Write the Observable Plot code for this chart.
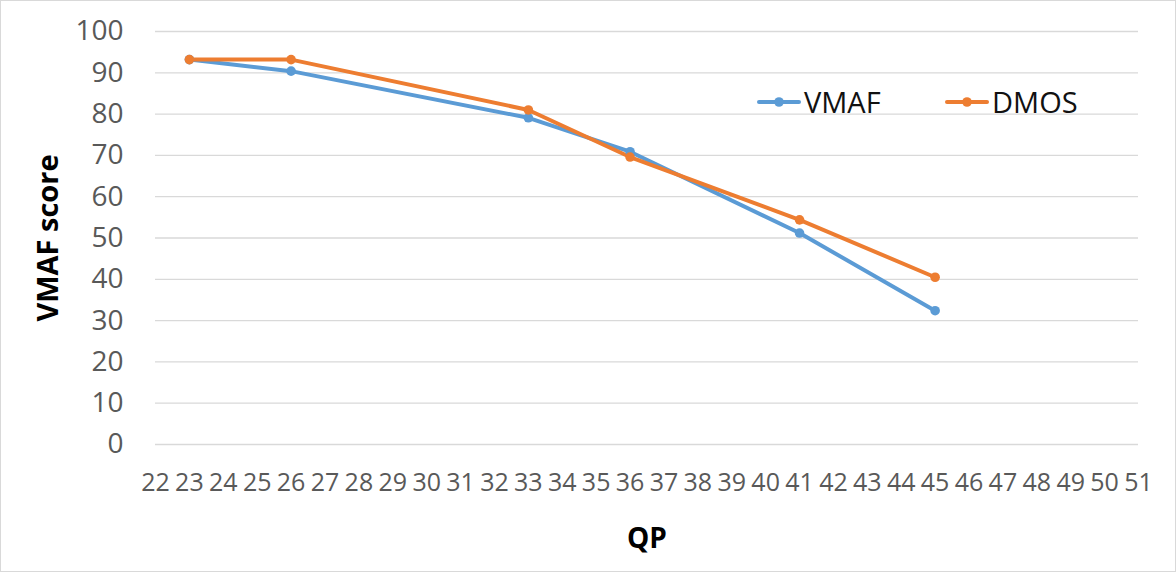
<!DOCTYPE html>
<html>
<head>
<meta charset="utf-8">
<script src="https://cdn.jsdelivr.net/npm/d3@7"></script>
<script src="https://cdn.jsdelivr.net/npm/@observablehq/plot@0.6"></script>
<style>
  html, body { margin: 0; padding: 0; background: #fff; }
  #wrap { position: relative; width: 1176px; height: 572px; font-family: "Open Sans", sans-serif; }
  #wrap::after { content: ""; position: absolute; inset: 0; border: 1px solid #d9d9d9; pointer-events: none; }
  .legend-item { position: absolute; top: 82px; height: 40px; display: flex; align-items: center; font-size: 29px; color: #111; line-height: 40px; }
  .legend-item svg { margin-right: 3px; }
</style>
</head>
<body>
<div id="wrap"></div>
<script>
const qp = [23, 26, 33, 36, 41, 45];
const vmaf = [93.2, 90.4, 79.1, 70.9, 51.2, 32.4];
const dmos = [93.2, 93.2, 81.0, 69.6, 54.4, 40.5];
const seriesNames = ["VMAF", "DMOS"];
const seriesColors = ["#5b9bd5", "#ed7d31"];
const xTicks = [22,23,24,25,26,27,28,29,30,31,32,33,34,35,36,37,38,39,40,41,42,43,44,45,46,47,48,49,50,51];
const yTicks = [0,10,20,30,40,50,60,70,80,90,100];
const xTitle = "QP";
const yTitle = "VMAF score";

const table = [];
qp.forEach((q, i) => table.push({qp: q, value: vmaf[i], series: seriesNames[0]}));
qp.forEach((q, i) => table.push({qp: q, value: dmos[i], series: seriesNames[1]}));

const chart = Plot.plot({
  width: 1176,
  height: 572,
  marginTop: 31,
  marginBottom: 128,
  marginLeft: 155,
  marginRight: 38,
  style: {fontFamily: "Open Sans, sans-serif", background: "transparent", overflow: "visible"},
  x: {domain: [22, 51]},
  y: {domain: [0, 100]},
  color: {domain: seriesNames, range: seriesColors},
  marks: [
    Plot.gridY(yTicks, {stroke: "#d9d9d9", strokeOpacity: 1, strokeWidth: 1.3}),
    Plot.axisY(yTicks, {tickSize: 0, tickPadding: 32, fontSize: 28, fill: "#595959", label: null}),
    Plot.axisX(xTicks, {tickSize: 0, tickPadding: 29, fontSize: 25, fill: "#595959", label: null, tickFormat: d => String(d)}),
    Plot.line(table, {x: "qp", y: "value", z: "series", stroke: "series", strokeWidth: 4, strokeLinejoin: "round", strokeLinecap: "round"}),
    Plot.dot(table, {x: "qp", y: "value", fill: "series", r: 4.8}),
    Plot.text([xTitle], {frameAnchor: "bottom", lineAnchor: "top", dy: 84, fontSize: 28, fontWeight: "bold", fill: "#000"}),
    Plot.text([yTitle], {frameAnchor: "left", textAnchor: "middle", lineAnchor: "top", rotate: -90, dx: -118, fontSize: 29, fontWeight: "bold", fill: "#000"})
  ]
});
const wrap = document.getElementById("wrap");
wrap.appendChild(chart);

const legendLeft = [757, 945];
seriesNames.forEach((name, i) => {
  const item = document.createElement("div");
  item.className = "legend-item";
  item.style.left = legendLeft[i] + "px";
  item.innerHTML = `<svg width="44" height="12"><line x1="2" y1="6" x2="42" y2="6" stroke="${seriesColors[i]}" stroke-width="4" stroke-linecap="round"/><circle cx="22" cy="6" r="4.8" fill="${seriesColors[i]}"/></svg><span>${name}</span>`;
  wrap.appendChild(item);
});
</script>
</body>
</html>
